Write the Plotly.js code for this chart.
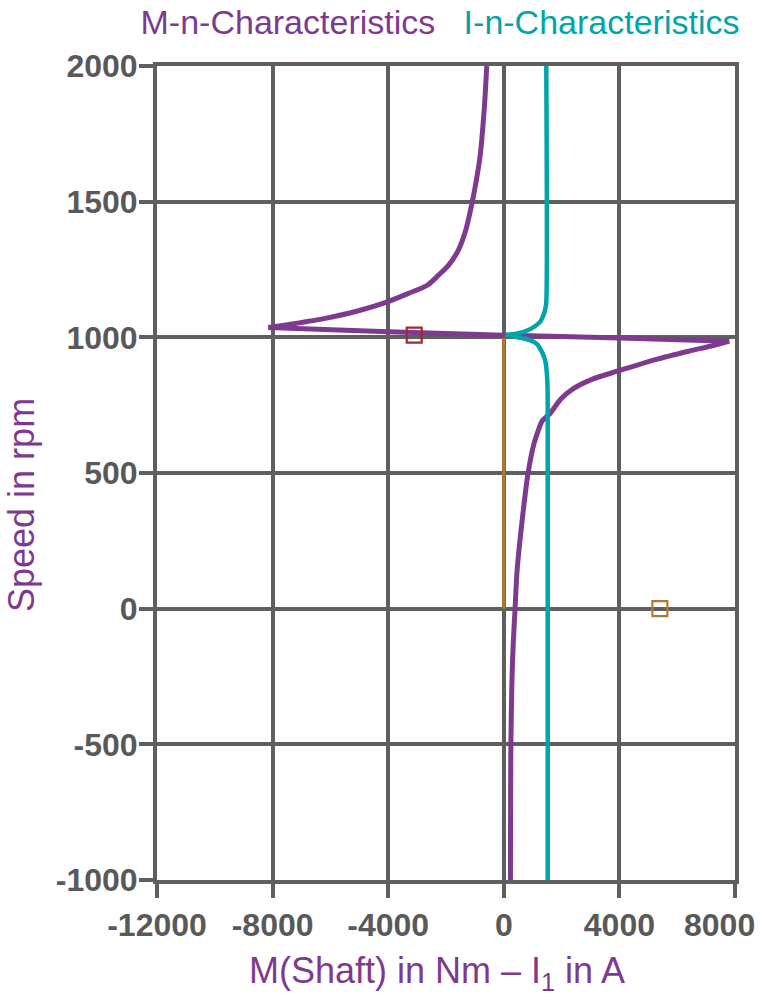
<!DOCTYPE html>
<html>
<head>
<meta charset="utf-8">
<script src="https://cdn.plot.ly/plotly-3.0.1.min.js"></script>
<style>html,body{margin:0;padding:0;background:#fff;}#chart{width:760px;height:998px;}</style>
</head>
<body>
<div id="chart"></div>
<script>
// M-n characteristic (shaft torque in Nm vs speed in rpm)
const mnSpeed  = [-1000, -700, -500, -300, -200, -100, 0, 140, 325, 500, 606, 659, 692, 722, 747, 771, 809, 845, 876, 919, 950, 970, 986,
                  998, 1008, 1021, 1036,
                  1049, 1070, 1098, 1129, 1162, 1192, 1230, 1266, 1320, 1388, 1500, 1585, 1671, 1855, 2000];
const mnTorque = [230, 235, 245, 275, 300, 340, 390, 460, 635, 840, 1040, 1200, 1330, 1620, 1790, 1960, 2380, 3050, 3950, 5280, 6440, 7250, 7800,
                  4000, 0, -4000, -8150,
                  -7340, -6180, -5030, -4080, -3300, -2650, -2250, -1910, -1580, -1336, -1090, -940, -817, -668, -590];

// I-n characteristic (stator current I1 in A vs speed in rpm)
const inSpeed   = [-1000, 700, 830, 880, 920, 950, 975, 990, 998, 1004, 1009, 1012, 1027, 1058, 1090, 1107, 1130, 2000];
const inCurrent = [1520, 1520, 1510, 1480, 1420, 1300, 1150, 900, 600, 300, 60, 400, 850, 1260, 1400, 1440, 1470, 1470];

// Load line (zero torque) and operating-point markers
const loadSpeed  = [0, 1000];
const loadTorque = [0, 0];
const redPointM  = [-3100];
const redPointN  = [1008];
const orangePointM = [5400];
const orangePointN = [0];

// Axis ticks
const xTicks = [-12000, -8000, -4000, 0, 4000, 8000];
const xTickLabels = ['-12000', '-8000', '-4000', '0', '4000', '8000'];
const yTicks = [-1000, -500, 0, 500, 1000, 1500, 2000];
const yTickLabels = ['-1000', '-500', '0', '500', '1000', '1500', '2000'];

const PURPLE = '#7E3A8E';
const TEAL = '#00A5A8';
const ORANGE = '#B07D2B';
const RED = '#A3282F';
const GRID = '#5F5F5F';
const TICKCOL = '#595959';
const FONT = '"Liberation Sans", Arial, Helvetica, sans-serif';

// branch break points (tips of the curves)
const mnRightTip = mnSpeed.indexOf(986);
const mnLeftTip = mnSpeed.indexOf(1036);
const inCusp = inSpeed.indexOf(1009);

function seg(xs, ys, a, b, color, width) {
  return {x: xs.slice(a, b + 1), y: ys.slice(a, b + 1), mode: 'lines',
          line: {color: color, width: width, shape: 'spline', smoothing: 0.8}, hoverinfo: 'skip', showlegend: false};
}

const traces = [
  {x: loadTorque, y: loadSpeed, mode: 'lines', line: {color: ORANGE, width: 3}, hoverinfo: 'skip', showlegend: false},
  seg(mnTorque, mnSpeed, 0, mnRightTip, PURPLE, 5),
  seg(mnTorque, mnSpeed, mnRightTip, mnLeftTip, PURPLE, 5),
  seg(mnTorque, mnSpeed, mnLeftTip, mnSpeed.length - 1, PURPLE, 5),
  seg(inCurrent, inSpeed, 0, inCusp, TEAL, 4.5),
  seg(inCurrent, inSpeed, inCusp, inSpeed.length - 1, TEAL, 4.5),
  {x: redPointM, y: redPointN, mode: 'markers', marker: {symbol: 'square-open', size: 15, color: RED, line: {width: 2.2, color: RED}}, showlegend: false},
  {x: orangePointM, y: orangePointN, mode: 'markers', marker: {symbol: 'square-open', size: 15, color: ORANGE, line: {width: 2.2, color: ORANGE}}, showlegend: false}
];

const tickFont = {family: FONT, size: 32, color: TICKCOL, weight: 'bold'};
const axisCommon = {
  showgrid: true, gridcolor: GRID, gridwidth: 4,
  zeroline: false,
  showline: true, linecolor: GRID, linewidth: 4, mirror: true,
  ticks: 'outside', ticklen: 14, tickwidth: 4, tickcolor: GRID,
  tickfont: tickFont
};

// the last x label sits shifted left so that it stays inside the picture (as in the reference)
const lastX = xTicks.length - 1;
const xTickText = xTickLabels.map((t, i) => i === lastX ? '' : t);

const layout = {
  width: 760, height: 998,
  paper_bgcolor: '#fff', plot_bgcolor: '#fff',
  margin: {l: 157, r: 25, t: 66, b: 118},
  font: {family: FONT},
  title: {
    text: '<span style="color:' + PURPLE + '">M-n-Characteristics</span>\u00A0\u00A0\u00A0<span style="color:' + TEAL + '">I-n-Characteristics</span>',
    font: {family: FONT, size: 34, color: PURPLE},
    xref: 'container', yref: 'container', x: 440/760, xanchor: 'center', y: 1 - 22/998, yanchor: 'middle'
  },
  xaxis: Object.assign({}, axisCommon, {range: [-12000, 8000], tickvals: xTicks, ticktext: xTickText}),
  yaxis: Object.assign({}, axisCommon, {range: [-1000, 2000], tickvals: yTicks, ticktext: yTickLabels, ticklabelstandoff: -5}),
  annotations: [
    {text: xTickLabels[lastX], xref: 'x', yref: 'paper', x: xTicks[lastX], y: -(925-880)/814,
     xanchor: 'right', yanchor: 'middle', xshift: 22, showarrow: false, font: tickFont},
    {text: 'M(Shaft) in Nm – I<sub>1</sub> in A', xref: 'paper', yref: 'paper', x: (437-157)/578, y: -(973-880)/814,
     xanchor: 'center', yanchor: 'middle', showarrow: false, font: {family: FONT, size: 36, color: PURPLE}},
    {text: 'Speed in rpm', xref: 'paper', yref: 'paper', x: (21-157)/578, y: (880-505)/814, textangle: -90,
     xanchor: 'center', yanchor: 'middle', showarrow: false, font: {family: FONT, size: 36, color: PURPLE}}
  ]
};

Plotly.newPlot('chart', traces, layout, {displayModeBar: false, staticPlot: true});
</script>
</body>
</html>
